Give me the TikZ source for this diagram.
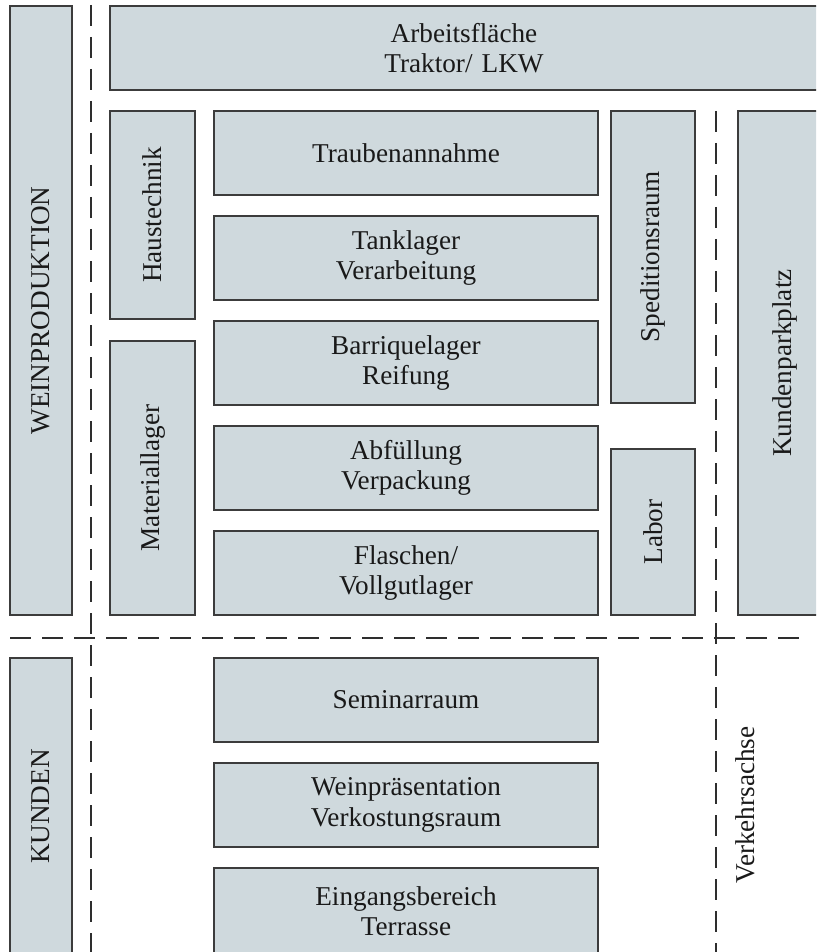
\documentclass[tikz,border=0pt]{standalone}
\usepackage{fontspec}
\setmainfont{Liberation Serif}
\usepackage{xcolor}
\usepackage{tikz}
\usetikzlibrary{positioning}

\definecolor{roomfill}{HTML}{CFD9DD}
\definecolor{roomline}{HTML}{3C3C3C}
\definecolor{axisline}{HTML}{2E2E2E}

\begin{document}
\begin{tikzpicture}[
  node distance=10.5pt,
  room/.style={draw=roomline, line width=0.7pt, fill=roomfill, align=center,
    inner sep=0pt, outer sep=0pt, anchor=north west, text=black!90,
    font=\fontsize{13.6}{15.2}\selectfont},
  hall/.style={room, minimum width=192pt, minimum height=42pt},
  tall/.style={room, rotate=90, anchor=north east},
  axis/.style={draw=axisline, line width=0.65pt, dash pattern=on 10.5pt off 5.5pt}]
  \useasboundingbox (0,0) rectangle (408pt,-476pt);
  \clip (0,0) rectangle (408pt,-476pt);
  % production wing
  \node[tall, minimum width=304.5pt, minimum height=31pt] (prod) at (5pt,-3pt) {WEINPRODUKTION};
  \node[room, minimum width=354pt, minimum height=42pt, text width=354pt] (work) at (55pt,-3pt) {Arbeitsfläche\\Traktor/ LKW};
  \node[tall, minimum width=104pt, minimum height=42.5pt] (tech) at (55pt,-55.5pt) {Haustechnik};
  \node[tall, minimum width=137pt, minimum height=42.5pt] (mat) at (55pt,-170.5pt) {Materiallager};
  \node[hall] (grape) at (107pt,-55.5pt) {Traubenannahme};
  \node[hall, below=of grape.south west, anchor=north west] (tank) {Tanklager\\Verarbeitung};
  \node[hall, below=of tank.south west, anchor=north west] (barr) {Barriquelager\\Reifung};
  \node[hall, below=of barr.south west, anchor=north west] (fill) {Abfüllung\\Verpackung};
  \node[hall, below=of fill.south west, anchor=north west] (bottle) {Flaschen/\\Vollgutlager};
  \node[tall, minimum width=146pt, minimum height=42pt] (ship) at (305.5pt,-55.5pt) {Speditionsraum};
  \node[tall, minimum width=83pt, minimum height=42pt] (lab) at (305.5pt,-224.5pt) {Labor};
  \node[tall, minimum width=252pt, minimum height=47pt] (park) at (369pt,-55.5pt) {Kundenparkplatz};
  % customer wing
  \node[tall, minimum width=148.5pt, minimum height=31pt] (cust) at (5pt,-329pt) {KUNDEN};
  \node[hall] (sem) at (107pt,-329pt) {Seminarraum};
  \node[hall, below=of sem.south west, anchor=north west] (taste) {Weinpräsentation\\Verkostungsraum};
  \node[hall, below=of taste.south west, anchor=north west, minimum height=43pt] (entry) {Eingangsbereich\\Terrasse};
  \node[rotate=90, font=\fontsize{13.6}{15.2}\selectfont, text=black!90] (road) at (372.5pt,-402.5pt) {Verkehrsachse};
  % axes
  \draw[axis] (45.5pt,-2.5pt) -- (45.5pt,-476pt);
  \draw[axis] (5pt,-319pt) -- (400.5pt,-319pt);
  \draw[axis] (358pt,-55.5pt) -- (358pt,-476pt);
\end{tikzpicture}
\end{document}
